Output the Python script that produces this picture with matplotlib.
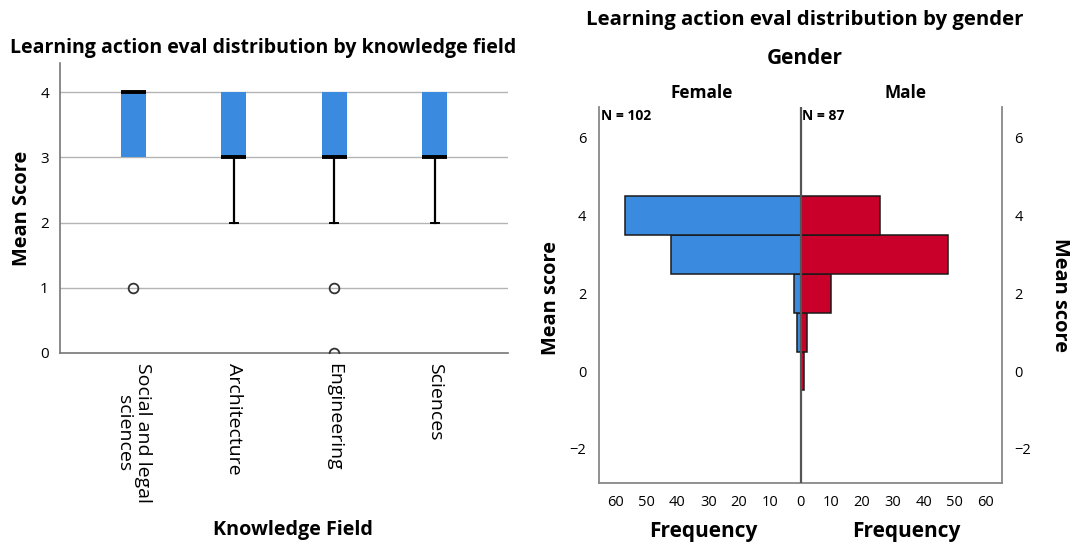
import matplotlib.pyplot as plt
import numpy as np

plt.rcParams['font.family'] = ['Open Sans', 'DejaVu Sans']

# box plot summary per knowledge field
fields = ['Social and legal\nsciences', 'Architecture', 'Engineering', 'Sciences']
q1 = [3, 3, 3, 3]
med = [4, 3, 3, 3]
q3 = [4, 4, 4, 4]
whis_lo = [3, 2, 2, 2]
whis_hi = [4, 4, 4, 4]
outliers = [[1], [], [1, 0], []]

# pyramid histogram of mean score by gender
score_bins = [0, 1, 2, 3, 4]
female_freq = [0, 1, 2, 42, 57]
male_freq = [1, 2, 10, 48, 26]
n_female = 102
n_male = 87

BLUE = '#3a8bdf'
RED = '#c8002a'
W, H = 1070, 542

fig = plt.figure(figsize=(W / 100, H / 100), dpi=100)


def px(x, y):
    return x / W, 1 - y / H


def ax_rect(x0, y0, x1, y1):
    return [x0 / W, 1 - y1 / H, (x1 - x0) / W, (y1 - y0) / H]


# ---- left: boxplot ----
ax1 = fig.add_axes(ax_rect(60, 63, 508, 353))
stats = []
for i in range(len(fields)):
    stats.append(dict(med=med[i], q1=q1[i], q3=q3[i], whislo=whis_lo[i],
                      whishi=whis_hi[i], fliers=outliers[i]))
pos = np.arange(len(fields))
res = ax1.bxp(stats, positions=pos, widths=0.25, patch_artist=True,
              boxprops=dict(facecolor=BLUE, edgecolor='none'),
              medianprops=dict(color='black', lw=2.8),
              whiskerprops=dict(color='black', lw=1.6),
              capprops=dict(color='black', lw=1.4),
              flierprops=dict(marker='o', markerfacecolor='none',
                              markeredgecolor='#333333', markersize=7, mew=1.3),
              capwidths=0.08, zorder=3)
# no whisker caps where the whisker has zero length
for i in range(len(fields)):
    if whis_lo[i] == q1[i]:
        res['caps'][2 * i].set_visible(False)
    if whis_hi[i] == q3[i]:
        res['caps'][2 * i + 1].set_visible(False)

ax1.set_xlim(-0.73, 3.73)
ax1.set_ylim(0, 4.45)
ax1.set_yticks([0, 1, 2, 3, 4])
for y in [1, 2, 3, 4]:
    ax1.axhline(y, color='#b4b4b4', lw=1, zorder=1)
ax1.set_xticks(pos)
ax1.set_xticklabels(fields, rotation=-90, va='top', ha='center', fontsize=14,
                    linespacing=1.05)
ax1.tick_params(axis='y', length=0, labelsize=11, pad=8)
ax1.tick_params(axis='x', length=0, pad=7)
for s in ['top', 'right']:
    ax1.spines[s].set_visible(False)
for s in ['left', 'bottom']:
    ax1.spines[s].set_color('#777777')
    ax1.spines[s].set_linewidth(1.2)

fig.text(*px(263, 48), 'Learning action eval distribution by knowledge field',
         ha='center', va='center', fontsize=14, fontweight='bold')
fig.text(*px(22, 208), 'Mean Score', rotation=90, ha='center', va='center',
         fontsize=14.4, fontweight='bold')
fig.text(*px(293, 530), 'Knowledge Field', ha='center', va='center',
         fontsize=14.2, fontweight='bold')

# ---- right: population pyramid ----
ax2 = fig.add_axes(ax_rect(599, 107, 1002, 483))
ax2.barh(score_bins, [-f for f in female_freq], height=1, color=BLUE,
         edgecolor='#1a1a1a', lw=1.1, zorder=2)
ax2.barh(score_bins, male_freq, height=1, color=RED,
         edgecolor='#1a1a1a', lw=1.1, zorder=2)
ax2.axvline(0, color='#555555', lw=1.6, zorder=4)
ax2.set_xlim(-65.5, 65.5)
ax2.set_ylim(-2.88, 6.79)
ticks = np.arange(-60, 61, 10)
ax2.set_xticks(ticks)
ax2.set_xticklabels([str(abs(t)) for t in ticks], fontsize=10.5)
ax2.set_yticks([-2, 0, 2, 4, 6])
ax2.tick_params(axis='y', length=0, labelsize=10.5, pad=9,
                labelleft=True, labelright=True)
ax2.tick_params(axis='x', length=0, pad=9)
ax2.spines['top'].set_visible(False)
for s in ['left', 'right', 'bottom']:
    ax2.spines[s].set_color('#888888')
    ax2.spines[s].set_linewidth(1.3)

ax2.text(-65, 6.55, 'N = %d' % n_female, fontsize=10, fontweight='bold',
         ha='left', va='center')
ax2.text(0.6, 6.55, 'N = %d' % n_male, fontsize=10, fontweight='bold',
         ha='left', va='center')

fig.text(*px(805, 20), 'Learning action eval distribution by gender',
         ha='center', va='center', fontsize=14.7, fontweight='bold')
fig.text(*px(805, 58), 'Gender', ha='center', va='center', fontsize=15,
         fontweight='bold')
fig.text(*px(702, 93), 'Female', ha='center', va='center', fontsize=12.4,
         fontweight='bold')
fig.text(*px(906, 93), 'Male', ha='center', va='center', fontsize=12.4,
         fontweight='bold')
fig.text(*px(551, 298), 'Mean score', rotation=90, ha='center', va='center',
         fontsize=14.4, fontweight='bold')
fig.text(*px(1060, 295), 'Mean score', rotation=-90, ha='center', va='center',
         fontsize=14.4, fontweight='bold')
fig.text(*px(703, 531), 'Frequency', ha='center', va='center', fontsize=15,
         fontweight='bold')
fig.text(*px(906, 531), 'Frequency', ha='center', va='center', fontsize=15,
         fontweight='bold')

fig.savefig('out.png', dpi=100)
